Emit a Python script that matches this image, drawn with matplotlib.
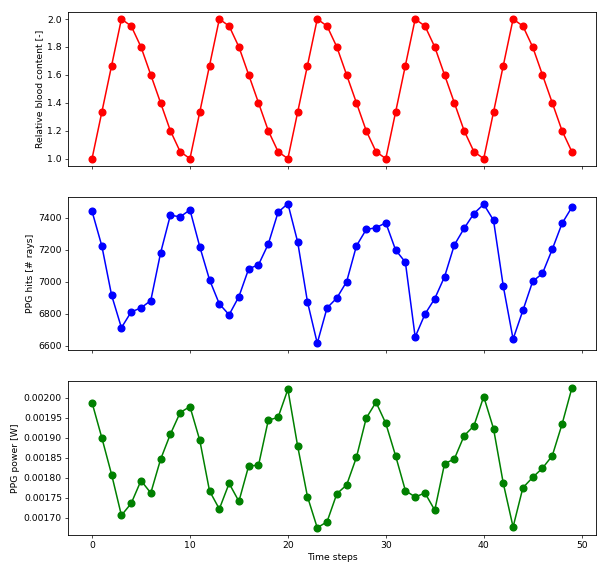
import matplotlib as mpl
mpl.use('Agg')
import matplotlib.pyplot as pyplot
import numpy as np

# values
time_steps = list(range(50))

blood_content = [1.0, 1.333, 1.667, 2.0, 1.95, 1.8, 1.6, 1.4, 1.2, 1.05] * 5

ppg_hits = [7441, 7224, 6915, 6712, 6811, 6836, 6882, 7180, 7417, 7406,
            7450, 7220, 7012, 6861, 6793, 6907, 7081, 7106, 7236, 7435,
            7489, 7249, 6874, 6615, 6836, 6898, 7000, 7224, 7327, 7338,
            7369, 7199, 7122, 6654, 6797, 6894, 7031, 7230, 7334, 7427,
            7485, 7385, 6971, 6641, 6820, 7002, 7052, 7203, 7365, 7466]

ppg_power = [0.001988, 0.001900, 0.001808, 0.001706, 0.001736, 0.001793, 0.001762, 0.001846, 0.001909, 0.001963,
             0.001978, 0.001894, 0.001767, 0.001722, 0.001786, 0.001741, 0.001830, 0.001831, 0.001944, 0.001951,
             0.002021, 0.001879, 0.001753, 0.001675, 0.001690, 0.001760, 0.001782, 0.001851, 0.001949, 0.001989,
             0.001936, 0.001855, 0.001768, 0.001752, 0.001762, 0.001719, 0.001835, 0.001847, 0.001905, 0.001930,
             0.002003, 0.001923, 0.001786, 0.001677, 0.001775, 0.001801, 0.001824, 0.001855, 0.001934, 0.002024]

blood_ticks = [1.0, 1.2, 1.4, 1.6, 1.8, 2.0]
hits_ticks = [6600, 6800, 7000, 7200, 7400]
power_ticks = [0.00170, 0.00175, 0.00180, 0.00185, 0.00190, 0.00195, 0.00200]
x_ticks = [0, 10, 20, 30, 40, 50]

# reference looks like a downscaled render, so shrink everything
pyplot.rcParams['font.size'] = 6.7
pyplot.rcParams['axes.linewidth'] = 0.6
pyplot.rcParams['xtick.major.size'] = 2.2
pyplot.rcParams['ytick.major.size'] = 2.2
pyplot.rcParams['xtick.major.width'] = 0.5
pyplot.rcParams['ytick.major.width'] = 0.5
pyplot.rcParams['xtick.major.pad'] = 2.2
pyplot.rcParams['ytick.major.pad'] = 2.2
pyplot.rcParams['axes.labelpad'] = 2.5

figure, axes = pyplot.subplots(3, 1, sharex=True, figsize=(6.13, 5.75), dpi=100)
figure.subplots_adjust(left=0.111, right=0.972, top=0.979, bottom=0.070, hspace=0.202)

axes[0].plot(time_steps, blood_content, 'o-', color='red', markersize=4.8, linewidth=1.1)
axes[0].set_ylabel('Relative blood content [-]')
axes[0].set_yticks(blood_ticks)
axes[0].set_yticklabels(['{:.1f}'.format(t) for t in blood_ticks])

axes[1].plot(time_steps, ppg_hits, 'o-', color='blue', markersize=4.8, linewidth=1.1)
axes[1].set_ylabel('PPG hits [# rays]')
axes[1].set_yticks(hits_ticks)

axes[2].plot(time_steps, ppg_power, 'o-', color='green', markersize=4.8, linewidth=1.1)
axes[2].set_ylabel('PPG power [W]')
axes[2].set_yticks(power_ticks)
axes[2].set_yticklabels(['{:.5f}'.format(t) for t in power_ticks])
axes[2].set_xlabel('Time steps')
axes[2].set_xticks(x_ticks)

figure.savefig('out.png', dpi=100)
